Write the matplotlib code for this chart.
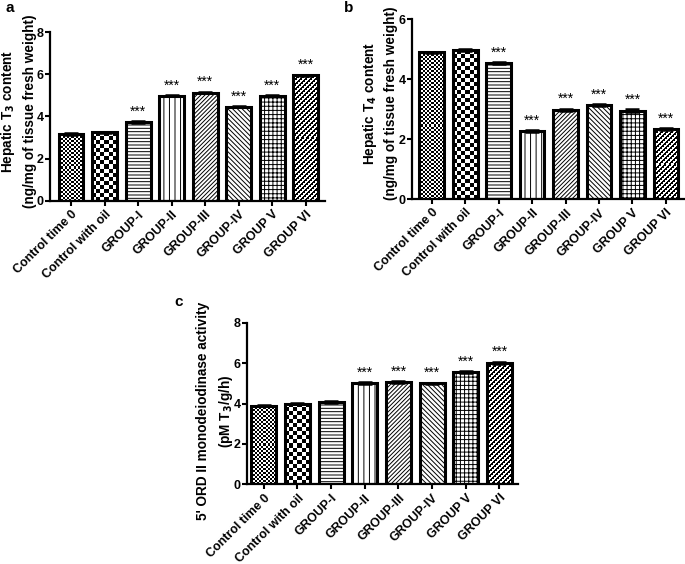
import numpy as np
import matplotlib
matplotlib.use("Agg")
import matplotlib.pyplot as plt

plt.rcParams['font.family'] = ['Liberation Sans', 'DejaVu Sans']
plt.rcParams['font.weight'] = 'bold'
plt.rcParams['hatch.color'] = 'black'
plt.rcParams['hatch.linewidth'] = 0.7

groups = ["Control time 0", "Control with oil", "GROUP-I", "GROUP-II",
          "GROUP-III", "GROUP-IV", "GROUP V", "GROUP VI"]

t3_vals = [3.17, 3.24, 3.74, 4.98, 5.13, 4.46, 4.98, 5.95]
t3_err = [0.03, 0.03, 0.03, 0.03, 0.04, 0.03, 0.03, 0.04]
t3_sig = [False, False, True, True, True, True, True, True]

t4_vals = [4.89, 4.96, 4.54, 2.27, 2.98, 3.14, 2.95, 2.34]
t4_err = [0.03, 0.03, 0.03, 0.03, 0.03, 0.03, 0.04, 0.03]
t4_sig = [False, False, True, True, True, True, True, True]

ord_vals = [3.90, 4.00, 4.08, 5.02, 5.06, 5.01, 5.56, 6.02]
ord_err = [0.04, 0.03, 0.03, 0.03, 0.03, 0.03, 0.03, 0.05]
ord_sig = [False, False, False, True, True, True, True, True]

# bars 0, 1 and 7 get a bitmap texture, the rest a hatch
hatches = [None, None, '-----', '|||', '////////', '\\\\\\\\\\\\\\',
           '++++', None]


def tex_checker(i, j):
    return (i + j) % 2


def tex_diag(i, j):
    k = (i + j) % 5
    return ((k < 2) | ((k == 2) & (i % 2 == 0))).astype(int)


textures = {0: (tex_checker, 2.0), 1: (tex_checker, 4.0), 7: (tex_diag, 1.0)}


def texture(ax, bar, func, cell_px):
    # fill one bar with a bitmap texture clipped to its outline
    x, y, w, h = bar.get_x(), bar.get_y(), bar.get_width(), bar.get_height()
    p0 = ax.transData.transform((x, y))
    p1 = ax.transData.transform((x + w, y + h))
    nx = max(1, int(round((p1[0] - p0[0]) / cell_px)))
    ny = max(1, int(round((p1[1] - p0[1]) / cell_px)))
    ii, jj = np.indices((ny, nx))
    arr = func(ii, jj)
    im = ax.imshow(arr, cmap='gray_r', extent=[x, x + w, y, y + h],
                   aspect='auto', interpolation='nearest', zorder=1.5,
                   vmin=0, vmax=1)
    im.set_clip_path(bar)


def panel(rect, vals, err, sig, ymax, ylabel, label_xy, letter, letter_xy, xlim):
    ax = fig.add_axes(rect)
    x = np.arange(len(vals))
    ax.set_xlim(*xlim)
    ax.set_ylim(0, ymax)
    bars = ax.bar(x, vals, width=0.74, color='white', edgecolor='black',
                  linewidth=2.2, zorder=2)
    for b, h in zip(bars, hatches):
        if h:
            b.set_hatch(h)
    for i, (func, px) in textures.items():
        bars[i].set_facecolor('none')
        texture(ax, bars[i], func, px)
    ax.errorbar(x, vals, yerr=err, fmt='none', ecolor='black', elinewidth=1.5,
                capsize=5, capthick=1.8, zorder=3)
    for xi, v, e, s in zip(x, vals, err, sig):
        if s:
            ax.annotate('***', (xi, v + e), xytext=(0, 7),
                        textcoords='offset points', ha='center', va='center',
                        fontsize=10, fontweight='normal')
    ax.set_xlim(*xlim)
    ax.set_ylim(0, ymax)
    ax.set_yticks(np.arange(0, ymax + 0.1, 2))
    ax.set_xticks(x)
    ax.set_xticklabels(groups, rotation=45, ha='right', rotation_mode='anchor',
                       fontsize=9, fontweight='bold')
    ax.tick_params(axis='both', direction='out', length=3.5, width=1.5,
                   labelsize=9, pad=1)
    ax.tick_params(axis='x', pad=2)
    for lab in ax.get_yticklabels():
        lab.set_fontweight('bold')
    for side in ['top', 'right']:
        ax.spines[side].set_visible(False)
    for side in ['left', 'bottom']:
        ax.spines[side].set_linewidth(1.6)
    ax.set_ylabel(ylabel, fontsize=9.8, fontweight='bold', linespacing=1.5)
    ax.yaxis.set_label_coords(*label_xy)
    fig.text(letter_xy[0], letter_xy[1], letter, fontsize=11,
             fontweight='bold', ha='left', va='center')
    return ax


fig = plt.figure(figsize=(6.85, 5.64), dpi=100)

panel([0.073, 0.644, 0.401, 0.299], t3_vals, t3_err, t3_sig, 8,
      "Hepatic T$_\\mathbf{3}$ content\n(ng/mg of tissue fresh weight)",
      (-0.048, 0.53), 'a', (0.008, 0.985), (-0.625, 7.56))
panel([0.601, 0.647, 0.397, 0.319], t4_vals, t4_err, t4_sig, 6,
      "Hepatic T$_\\mathbf{4}$ content\n(ng/mg of tissue fresh weight)",
      (-0.049, 0.53), 'b', (0.502, 0.985), (-0.6, 7.53))
panel([0.3606, 0.1413, 0.395, 0.2865], ord_vals, ord_err, ord_sig, 8,
      "5' ORD II monodeiodinase activity\n(pM T$_\\mathbf{3}$/g/h)",
      (-0.045, 0.455), 'c', (0.254, 0.465), (-0.5, 7.54))

fig.savefig("out.png", dpi=100)
